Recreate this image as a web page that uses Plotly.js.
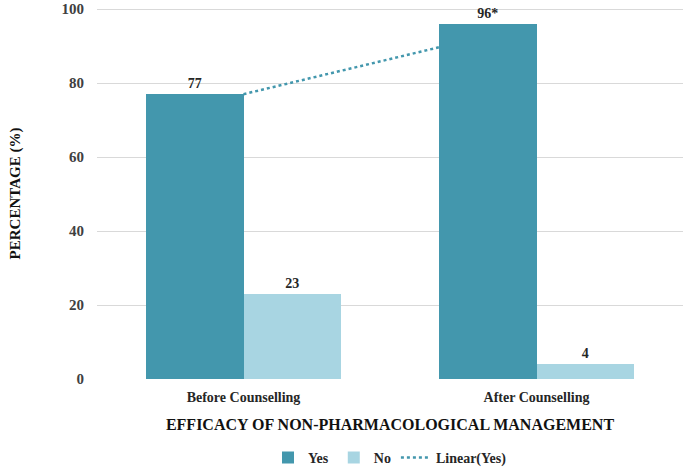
<!DOCTYPE html>
<html>
<head>
<meta charset="utf-8">
<script src="https://cdn.plot.ly/plotly-3.0.1.min.js"></script>
<style>html,body{margin:0;padding:0;background:#fff;}#chart{width:688px;height:475px;}</style>
</head>
<body>
<div id="chart"></div>
<script>
var categories = ["Before Counselling", "After Counselling"];
var yesValues = [77, 96];
var noValues = [23, 4];
var yesLabels = ["77", "96*"];
var noLabels = ["23", "4"];
var yTicks = [0, 20, 40, 60, 80, 100];

var idx = categories.map(function (c, i) { return i; });
var barW = 1 / 3;

// linear trend of Yes (least squares over category index)
var n = yesValues.length;
var mx = idx.reduce(function (a, b) { return a + b; }, 0) / n;
var my = yesValues.reduce(function (a, b) { return a + b; }, 0) / n;
var sxy = 0, sxx = 0;
for (var i = 0; i < n; i++) { sxy += (idx[i] - mx) * (yesValues[i] - my); sxx += (idx[i] - mx) * (idx[i] - mx); }
var slope = sxy / sxx, icpt = my - slope * mx;
var trendX = [idx[0], idx[n - 1] - barW];
var trendY = trendX.map(function (x) { return icpt + slope * x; });

var FAM = "'Liberation Serif', 'DejaVu Serif', serif";
var YES = "#4397ad", NO = "#a8d5e2";
function f(size, color) { return {family: FAM, size: size, color: color || "#262626", weight: "bold"}; }

var traces = [
  {type: "bar", name: "Yes", x: idx, y: yesValues, width: barW, offset: -barW,
   marker: {color: YES}, text: yesLabels, textposition: "outside", cliponaxis: false,
   textfont: f(14)},
  {type: "bar", name: "No", x: idx, y: noValues, width: barW, offset: 0,
   marker: {color: NO}, text: noLabels, textposition: "outside", cliponaxis: false,
   textfont: f(14)},
  {type: "scatter", mode: "lines", name: "Linear(Yes)", x: trendX, y: trendY,
   line: {color: YES, width: 2.5, dash: "dot"}}
];

var layout = {
  width: 688, height: 475,
  margin: {l: 97, r: 5, t: 8, b: 96, autoexpand: false},
  paper_bgcolor: "#fff", plot_bgcolor: "#fff",
  font: f(13),
  showlegend: true,
  legend: {orientation: "h", x: 0.5, xanchor: "center", yref: "container", y: 0.036, yanchor: "middle",
           font: f(14), traceorder: "normal"},
  xaxis: {range: [-0.5, 1.5], tickvals: idx, ticktext: categories, showgrid: false, zeroline: false,
          showline: false, ticks: "", ticklabelstandoff: 8, tickfont: f(14),
          title: {text: "EFFICACY OF NON-PHARMACOLOGICAL MANAGEMENT", standoff: 14,
                  font: f(16, "#111")}},
  yaxis: {range: [0, 100.3], tickvals: yTicks, showgrid: true, gridcolor: "#d9d9d9", gridwidth: 1,
          zeroline: false, showline: false, ticks: "", ticklabelstandoff: 12, ticklabeloverflow: "allow",
          tickfont: f(15, "#404040"),
          title: {text: "PERCENTAGE (%)", standoff: 37, font: f(15, "#111")}},
  bargap: 0, bargroupgap: 0
};

Plotly.newPlot("chart", traces, layout, {displayModeBar: false, staticPlot: true});
</script>
</body>
</html>
